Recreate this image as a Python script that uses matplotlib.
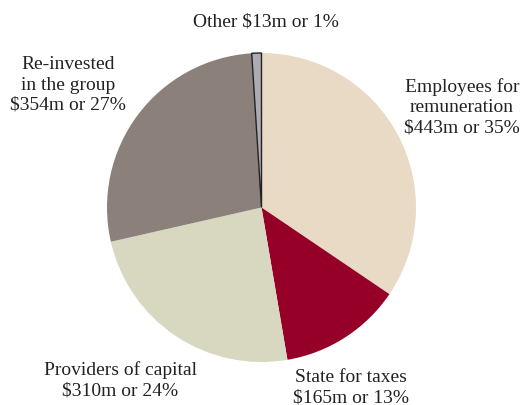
import matplotlib.pyplot as plt

plt.rcParams['font.family'] = ['Liberation Serif', 'DejaVu Serif']

# value added distribution, clockwise from 12 o'clock
groups = ["Employees for\nremuneration", "State for taxes", "Providers of capital",
          "Re-invested\nin the group", "Other"]
amounts = [443, 165, 310, 354, 13]
shares = [35, 13, 24, 27, 1]
colors = ["#E8DAC5", "#960028", "#D8D8C0", "#8C807A", "#ABABB3"]

W, H = 523, 406
fig = plt.figure(figsize=(W / 100, H / 100), dpi=100)
cx, cy, r = 261.5, 208.5, 154.5
ax = fig.add_axes([(cx - r) / W, (H - cy - r) / H, 2 * r / W, 2 * r / H])

wedges, _ = ax.pie(amounts, colors=colors, startangle=90, counterclock=False,
                   radius=1, wedgeprops=dict(linewidth=0))
wedges[-1].set_edgecolor("#222222")
wedges[-1].set_linewidth(1.0)
ax.set_xlim(-1, 1)
ax.set_ylim(-1, 1)
ax.axis("off")

# label centres in pixels
label_pos = [(462, 107), (351, 388), (120, 380), (68, 85), (266, 22)]
for name, amt, pct, (px, py) in zip(groups, amounts, shares, label_pos):
    if name == "Other":
        txt = f"{name} ${amt}m or {pct}%"
    else:
        txt = f"{name}\n${amt}m or {pct}%"
    fig.text(px / W, 1 - py / H, txt, ha="center", va="center",
             fontsize=14, color="#222222", linespacing=1.25)

fig.savefig("out.png", dpi=100)
